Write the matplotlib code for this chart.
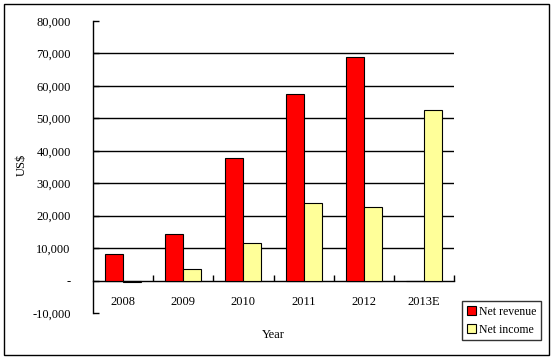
import numpy as np
import matplotlib.pyplot as plt
from matplotlib.patches import Rectangle
from matplotlib.ticker import FuncFormatter

years = ['2008', '2009', '2010', '2011', '2012', '2013E']
net_revenue = [8300, 14500, 37800, 57500, 68900, 0]
net_income = [-500, 3700, 11700, 24000, 22800, 52600]

plt.rcParams['font.family'] = ['Liberation Serif', 'DejaVu Serif']

fig = plt.figure(figsize=(5.54, 3.6), dpi=100)
ax = fig.add_axes([93 / 554, 1 - 313 / 360, 361 / 554, 292 / 360])

x = np.arange(len(years))
w = 0.3
ax.bar(x - w / 2, net_revenue, w, color='#ff0000', edgecolor='black', linewidth=0.8,
       label='Net revenue', zorder=3)
ax.bar(x + w / 2, net_income, w, color='#ffff99', edgecolor='black', linewidth=0.8,
       label='Net income', zorder=3)

ax.set_xlim(-0.5, len(years) - 0.5)
ax.set_ylim(-10000, 80000)
ax.set_yticks(np.arange(-10000, 80001, 10000))
ax.yaxis.set_major_formatter(FuncFormatter(lambda v, p: '-' if v == 0 else f'{v:,.0f}'))
for y in range(10000, 80000, 10000):
    ax.axhline(y, color='black', linewidth=1, zorder=1)

ax.spines['top'].set_visible(False)
ax.spines['right'].set_visible(False)
ax.spines['bottom'].set_position(('data', 0))
ax.spines['left'].set_linewidth(1)
ax.spines['bottom'].set_linewidth(1)

ax.set_xticks(x)
ax.set_xticklabels(years)
ax.set_xticks(np.arange(0.5, len(years), 1), minor=True)
ax.tick_params(axis='x', which='major', length=0, pad=11, labelsize=9)
ax.tick_params(axis='x', which='minor', direction='in', length=4, width=1)
ax.tick_params(axis='y', direction='in', length=4, width=1, pad=16, labelsize=9)

fig.text(22 / 554, 1 - 165 / 360, 'US$', rotation=90, ha='center', va='center', fontsize=9)
fig.text(273 / 554, 1 - 335 / 360, 'Year', ha='center', va='center', fontsize=9)

leg = fig.legend(loc='upper left', bbox_to_anchor=(462 / 554, 1 - 301 / 360), fontsize=8.5,
                 frameon=True, fancybox=False, edgecolor='black', handlelength=0.75,
                 handleheight=0.75, handletextpad=0.3, borderpad=0.4, labelspacing=0.5,
                 borderaxespad=0)
leg.get_frame().set_linewidth(1)

fig.patches.append(Rectangle((4 / 554, 5 / 360), 545 / 554, 351 / 360, transform=fig.transFigure,
                             fill=False, edgecolor='black', linewidth=1))

fig.savefig('out.png', dpi=100)
